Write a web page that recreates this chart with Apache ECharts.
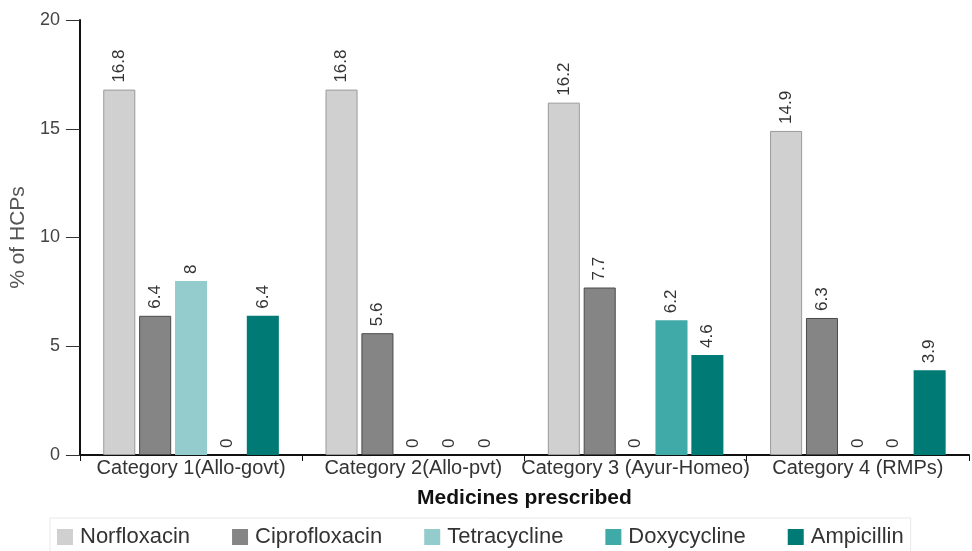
<!DOCTYPE html>
<html>
<head>
<meta charset="utf-8">
<script src="https://cdn.jsdelivr.net/npm/echarts@6/dist/echarts.min.js"></script>
<style>html,body{margin:0;padding:0;background:#fff;}#c{width:972px;height:551px;}</style>
</head>
<body>
<div id="c"></div>
<script>
var categories = ['Category 1(Allo-govt)', 'Category 2(Allo-pvt)', 'Category 3 (Ayur-Homeo)', 'Category 4 (RMPs)'];
var norfloxacin = [16.8, 16.8, 16.2, 14.9];
var ciprofloxacin = [6.4, 5.6, 7.7, 6.3];
var tetracycline = [8, 0, 0, 0];
var doxycycline = [0, 0, 6.2, 0];
var ampicillin = [6.4, 0, 4.6, 3.9];
var yTicks = [0, 5, 10, 15, 20];

var FONT = '"Liberation Sans", Arial, sans-serif';
function mk(name, data, color, border) {
  return {
    name: name, type: 'bar', data: data,
    barGap: '12%', barCategoryGap: '21%',
    itemStyle: { color: color, borderColor: border || color, borderWidth: border ? 1 : 0 },
    label: { show: true, position: 'top', rotate: 90, align: 'left', verticalAlign: 'middle', distance: 7,
      fontFamily: FONT, fontSize: 17, color: '#333' }
  };
}
var chart = echarts.init(document.getElementById('c'));
chart.setOption({
  animation: false,
  textStyle: { fontFamily: FONT },
  grid: { left: 78, right: 3, top: 20, bottom: 96, containLabel: false },
  xAxis: {
    type: 'category', data: categories,
    name: 'Medicines prescribed', nameLocation: 'middle', nameGap: 33,
    nameTextStyle: { fontFamily: FONT, fontSize: 21, fontWeight: 'bold', color: '#111' },
    axisLine: { lineStyle: { color: '#111', width: 2 } },
    axisTick: { show: true, length: 6, lineStyle: { color: '#111' } },
    axisLabel: { fontFamily: FONT, fontSize: 20, color: '#333', margin: 3, interval: 0 }
  },
  yAxis: {
    type: 'value', min: yTicks[0], max: yTicks[yTicks.length - 1], interval: 5,
    name: '% of HCPs', nameLocation: 'middle', nameGap: 50,
    nameTextStyle: { fontFamily: FONT, fontSize: 21, color: '#555' },
    axisLine: { show: true, lineStyle: { color: '#111', width: 2 } },
    axisTick: { show: true, length: 14, lineStyle: { color: '#333' } },
    axisLabel: { fontFamily: FONT, fontSize: 18, color: '#444', margin: 20 },
    splitLine: { show: false }
  },
  legend: {
    top: 518, left: 50,
    icon: 'rect', itemWidth: 16, itemHeight: 16, itemGap: 42,
    borderColor: '#e8e8e8', borderWidth: 1, padding: [8, 7, 8, 7],
    itemStyle: { borderWidth: 0 },
    textStyle: { fontFamily: FONT, fontSize: 22, color: '#333', padding: [0, 0, 0, 2] },
    data: ['Norfloxacin', 'Ciprofloxacin', 'Tetracycline', 'Doxycycline', 'Ampicillin']
  },
  series: [
    mk('Norfloxacin', norfloxacin, '#d0d0d0', '#9a9a9a'),
    mk('Ciprofloxacin', ciprofloxacin, '#858585', '#4a4a4a'),
    mk('Tetracycline', tetracycline, '#94cbcc', null),
    mk('Doxycycline', doxycycline, '#40aaa8', null),
    mk('Ampicillin', ampicillin, '#007a75', null)
  ]
});
</script>
</body>
</html>
